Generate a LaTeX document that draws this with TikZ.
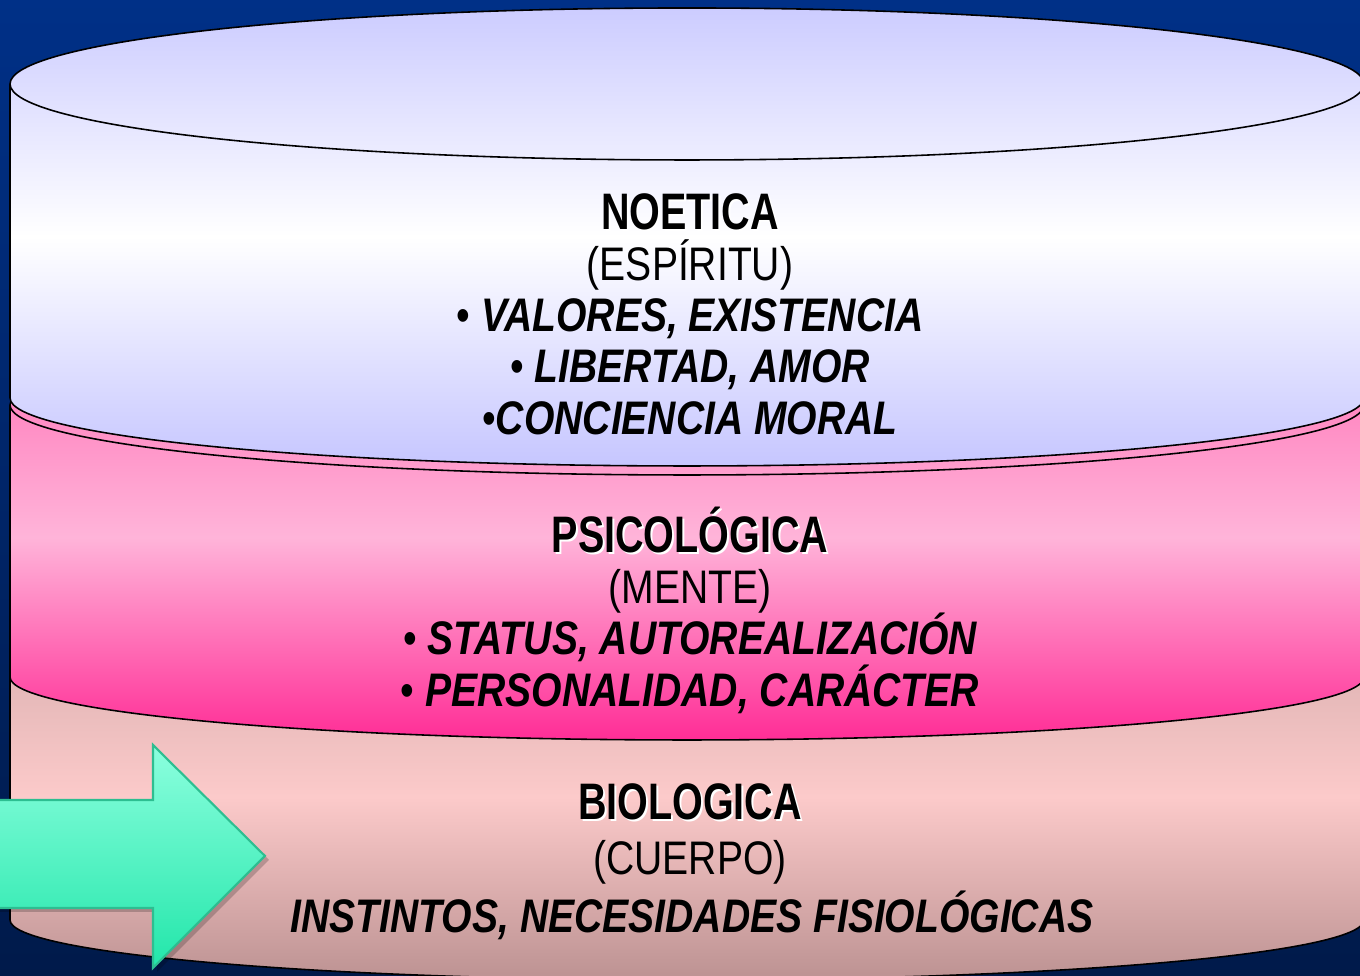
\documentclass[tikz,border=0pt]{standalone}
\usepackage{fontspec}
\setmainfont{Liberation Sans}[FakeStretch=0.83]
\newfontfamily\ttlfont{Liberation Sans}[FakeStretch=0.77]
\usetikzlibrary{calc}
\definecolor{navytop}{RGB}{0,48,135}
\definecolor{navybot}{RGB}{0,26,74}
\definecolor{lila}{RGB}{204,204,255}
\definecolor{lilabot}{RGB}{198,198,255}
\definecolor{rosatop}{RGB}{255,114,182}
\definecolor{rosamid}{RGB}{255,180,217}
\definecolor{rosabot}{RGB}{255,45,150}
\definecolor{carnetop}{RGB}{214,173,173}
\definecolor{carnemid}{RGB}{252,202,202}
\definecolor{carnebot}{RGB}{188,146,146}
\definecolor{mintop}{RGB}{140,255,222}
\definecolor{mintbot}{RGB}{34,230,170}
\definecolor{mintline}{RGB}{45,190,145}
\newcommand{\vineta}{{\mdseries\upshape •}}

\tikzset{
  capa/.style={draw=black, line width=0.45pt},
  titulo/.style={anchor=base, font=\ttlfont\bfseries\fontsize{14.6}{16}\selectfont},
  linea/.style={anchor=base, font=\fontsize{13.4}{15}\selectfont},
  punto/.style={anchor=base, font=\bfseries\itshape\fontsize{13.4}{15}\selectfont}
}

\begin{document}
\begin{tikzpicture}[x=0.1mm, y=0.1mm]
  \useasboundingbox (0,0) rectangle (1360,976);
  \fill[top color=navytop, bottom color=navybot] (0,0) rectangle (1360,976);

  % biologica
  \path[capa, top color=carnetop, bottom color=carnebot, middle color=carnemid]
    (10,299) arc[start angle=180, end angle=0, x radius=677, y radius=63]
    -- (1364,56) arc[start angle=0, end angle=-180, x radius=677, y radius=60] -- cycle;

  % psicologica
  \path[capa, top color=rosatop, bottom color=rosabot, middle color=rosamid]
    (10,571) arc[start angle=180, end angle=0, x radius=677, y radius=70]
    -- (1364,299) arc[start angle=0, end angle=-180, x radius=677, y radius=63] -- cycle;
  \draw[capa] (10,571) arc[start angle=180, end angle=360, x radius=677, y radius=70];

  % noetica
  \path[capa, top color=lila, bottom color=lilabot, middle color=white]
    (10,892) arc[start angle=180, end angle=0, x radius=677, y radius=76]
    -- (1364,578) arc[start angle=0, end angle=-180, x radius=677, y radius=68] -- cycle;
  \draw[capa] (10,892) arc[start angle=180, end angle=360, x radius=677, y radius=76];

  \node[titulo, text=white] at (692,744) {NOETICA};
  \node[titulo] (noetica) at (690,746) {NOETICA};
  \node[linea] (espiritu) at (690,695) {(ESPÍRITU)};
  \node[punto] (valores) at (690,644) {\vineta{} VALORES, EXISTENCIA};
  \node[punto] (libertad) at (690,593) {\vineta{} LIBERTAD, AMOR};
  \node[punto] (conciencia) at (690,541) {\vineta CONCIENCIA MORAL};

  \node[titulo, text=white] at (692,421) {PSICOLÓGICA};
  \node[titulo] (psicologica) at (690,423) {PSICOLÓGICA};
  \node[linea] (mente) at (690,372) {(MENTE)};
  \node[punto] (status) at (690,321) {\vineta{} STATUS, AUTOREALIZACIÓN};
  \node[punto] (personalidad) at (690,269) {\vineta{} PERSONALIDAD, CARÁCTER};

  \node[titulo, text=white] at (692,154) {BIOLOGICA};
  \node[titulo] (biologica) at (690,156) {BIOLOGICA};
  \node[linea] (cuerpo) at (690,101) {(CUERPO)};
  \node[punto] (instintos) at (692,43) {INSTINTOS, NECESIDADES FISIOLÓGICAS};

  % flecha
  \fill[black, opacity=0.2] (-20,172) -- (157,172) -- (157,227) -- (269,116)
    -- (157,4) -- (157,64) -- (-20,64) -- cycle;
  \path[draw=mintline, line width=0.6pt, top color=mintop, bottom color=mintbot]
    (-20,176) -- (153,176) -- (153,231) -- (265,120) -- (153,8) -- (153,68)
    -- (-20,68) -- cycle;
\end{tikzpicture}
\end{document}
